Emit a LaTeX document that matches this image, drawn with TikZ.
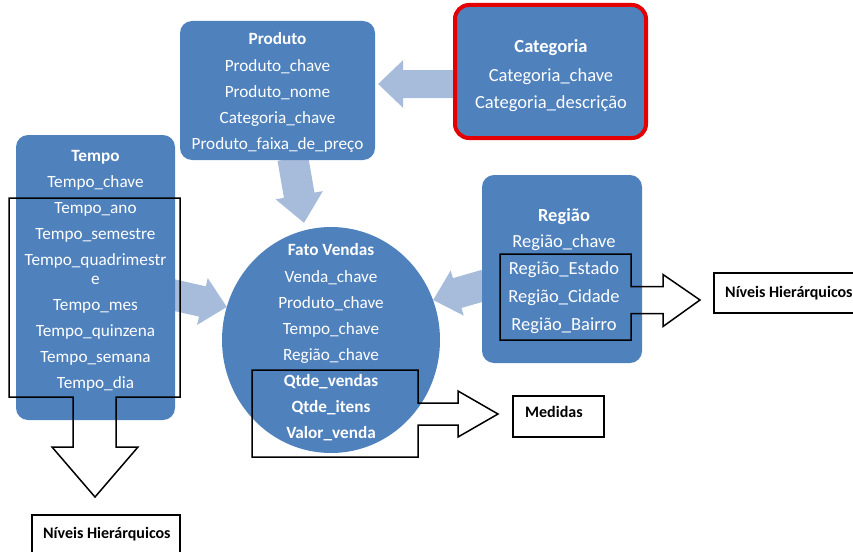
\documentclass[tikz,border=0pt]{standalone}
\usepackage{fontspec}
\setmainfont{Carlito}
\usetikzlibrary{calc,backgrounds,shapes.geometric}
\definecolor{boxblue}{RGB}{79,129,189}
\definecolor{arrowblue}{RGB}{167,188,218}
\definecolor{catred}{RGB}{228,0,0}
% block arrow: #1 start coord, #2 tip coord, #3 half shaft, #4 half head, #5 head length
\newcommand\blockarr[5]{%
  \coordinate (bs) at (#1);
  \coordinate (bt) at (#2);
  \coordinate (bb) at ($(bt)!#5!(bs)$);
  \fill[arrowblue] ($(bs)!#3!90:(bt)$) -- ($(bb)!#3!90:(bt)$) -- ($(bb)!#4!90:(bt)$)
     -- (bt) -- ($(bb)!#4!-90:(bt)$) -- ($(bb)!#3!-90:(bt)$) -- ($(bs)!#3!-90:(bt)$) -- cycle;
}
\begin{document}
\begin{tikzpicture}[x=1pt,y=-1pt,
  box/.style={fill=boxblue, rounded corners=12pt, inner sep=0pt, draw=none},
  linetxt/.style={text=white, inner sep=0pt, anchor=mid, yshift=-4pt, font=\fontsize{17.2}{20}\selectfont},
  bigtxt/.style={linetxt, font=\fontsize{18.5}{21}\selectfont},
  outline/.style={draw=black, line width=1.5pt, line join=miter},
  lblbox/.style={draw=black, line width=1.2pt, fill=white, inner sep=0pt},
  lbltxt/.style={inner sep=0pt, anchor=mid west, yshift=-3.5pt, font=\fontsize{16}{18}\selectfont\bfseries},
]
\useasboundingbox (0,0) rectangle (853,551);

% boxes
\node[box, minimum width=159pt, minimum height=285pt] (tempo) at (95.5,277.5) {};
\node[box, minimum width=195pt, minimum height=139pt] (produto) at (277.5,90.5) {};
\node[box, draw=catred, line width=4pt, rounded corners=14pt, minimum width=191pt, minimum height=133pt] (categoria) at (550.5,71.5) {};
\node[box, minimum width=160pt, minimum height=188pt] (regiao) at (562,269) {};
\node[ellipse, fill=boxblue, minimum width=218pt, minimum height=226pt, inner sep=0pt] (fato) at (331,340) {};

% light connectors
\coordinate (catstart) at ($(categoria.west)+(2,12.5)$);
\coordinate (cattip) at ($(produto.east)+(3,-6.5)$);
\coordinate (prodstart) at ($(produto.south)+(15.3,-2)$);
\coordinate (prodtip) at ($(fato.north)+(-27,-4)$);
\coordinate (tempostart) at ($(tempo.east)+(-8,16)$);
\coordinate (tempotip) at ($(fato.west)+(5,-33)$);
\coordinate (regstart) at ($(regiao.west)+(4,15.8)$);
\coordinate (regtip) at ($(fato.east)+(-7,-40)$);
\begin{scope}[on background layer]
  \blockarr{catstart}{cattip}{14pt}{24pt}{25pt}
  \blockarr{prodstart}{prodtip}{15.5pt}{24pt}{28pt}
  \blockarr{tempostart}{tempotip}{15.5pt}{24pt}{25pt}
  \blockarr{regstart}{regtip}{15.5pt}{23.5pt}{25pt}
\end{scope}

% texts
\foreach \yy/\t [count=\i] in {155/{\bfseries Tempo}, 181/Tempo\_chave, 207/Tempo\_ano,
   233/Tempo\_semestre, 259/Tempo\_quadrimestr, 278/e, 304/Tempo\_mes,
   330/Tempo\_quinzena, 356/Tempo\_semana, 382/Tempo\_dia}
  \node[linetxt] (tempo-\i) at (95.5,\yy) {\t};
\foreach \yy/\t [count=\i] in {38/{\bfseries Produto}, 65/Produto\_chave, 91/Produto\_nome,
   117/Categoria\_chave, 143/Produto\_faixa\_de\_preço}
  \node[linetxt] (produto-\i) at (277.5,\yy) {\t};
\foreach \yy/\t [count=\i] in {46/{\bfseries Categoria}, 75/Categoria\_chave, 102/Categoria\_descrição}
  \node[bigtxt] (categoria-\i) at (551,\yy) {\t};
\foreach \yy/\t [count=\i] in {215/{\bfseries Região}, 241/Região\_chave, 268/Região\_Estado,
   296/Região\_Cidade, 324/Região\_Bairro}
  \node[bigtxt] (regiao-\i) at (564,\yy) {\t};
\foreach \yy/\t [count=\i] in {249/{\bfseries Fato Vendas}, 276/Venda\_chave, 302/Produto\_chave,
   328/Tempo\_chave, 354/Região\_chave, 380/{\bfseries Qtde\_vendas}, 406/{\bfseries Qtde\_itens},
   432/{\bfseries Valor\_venda}}
  \node[linetxt] (fato-\i) at (331,\yy) {\t};

% label boxes
\node[lblbox, minimum width=91pt, minimum height=41pt] (medbox) at (558.5,416.5) {};
\node[lbltxt] (medtxt) at (525,412) {Medidas};
\node[lblbox, minimum width=146pt, minimum height=40pt] (nivbox1) at (787,293) {};
\node[lbltxt] (nivtxt1) at (725,292) {Níveis Hierárquicos};
\node[lblbox, minimum width=148pt, minimum height=50pt] (nivbox2) at (106,540) {};
\node[lbltxt] (nivtxt2) at (43,533) {Níveis Hierárquicos};

% black outlines with arrows
\draw[outline] (9,198) -- (180,198) -- (180,397) -- (116,397) -- (116,447) -- (138,447)
  -- (95,497) -- (52,447) -- (73,447) -- (73,397) -- (9,397) -- cycle;
\draw[outline] (252,370) -- (418,370) -- (418,403) -- (458,403) -- (458,391) -- (498,414)
  -- (458,437) -- (458,425) -- (418,425) -- (418,457) -- (252,457) -- cycle;
\draw[outline] (500,254) -- (631,254) -- (631,286.5) -- (663,286.5) -- (663,274.5) -- (700,300)
  -- (663,326.5) -- (663,313.5) -- (631,313.5) -- (631,340) -- (500,340) -- cycle;
\end{tikzpicture}
\end{document}
